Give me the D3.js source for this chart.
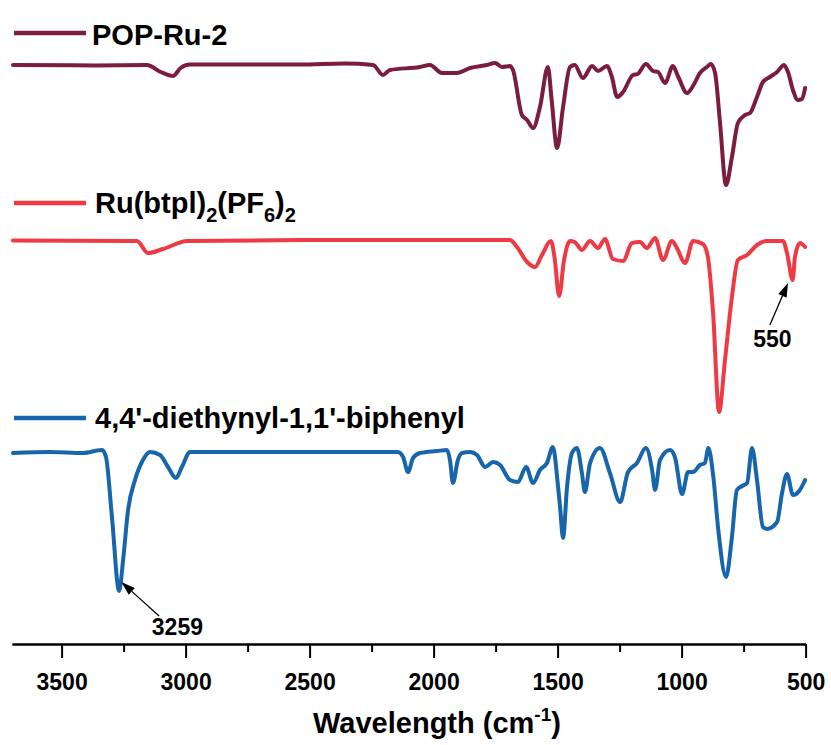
<!DOCTYPE html>
<html>
<head>
<meta charset="utf-8">
<script src="https://cdn.jsdelivr.net/npm/d3@7"></script>
<style>
  body { margin: 0; background: #fff; }
  svg { display: block; font-family: "Liberation Sans", Arial, sans-serif; font-weight: bold; }
</style>
</head>
<body>
<div id="chart"></div>
<script>

// wavenumbers (cm-1) and stacked intensity (a.u.)
var popWn = [3696, 3365, 3156, 3100, 3051, 3020, 2982, 2539, 2357, 2244, 2204, 2176, 2055, 2015, 1966, 1906, 1853, 1785, 1752, 1724,
             1692, 1680, 1644, 1623, 1599, 1571, 1539, 1524, 1502, 1478, 1450, 1431, 1398, 1361, 1337, 1301, 1281, 1260, 1236, 1196,
             1177, 1144, 1115, 1095, 1067, 1035, 1015, 978, 954, 926, 898, 882, 865, 845, 821, 797, 773, 744, 724, 696,
             672, 644, 615, 587, 571, 551, 531, 515, 502];
var popVal = [289.5, 289.3, 289.5, 286, 284, 288, 289.7, 289.7, 290.2, 289.5, 284.5, 287, 288.5, 289.5, 285.5, 285.5, 288, 289.5, 290.5, 288.5,
              289, 287, 264.5, 262, 258, 268.5, 288.5, 272, 248, 268.5, 288.5, 289.5, 283, 289, 286.5, 289, 283.5, 273.5, 276, 284.5,
              285, 290, 286.5, 286, 280.5, 289, 284, 275.5, 279, 285.5, 288.5, 290, 285.5, 260.5, 229.5, 243.5, 260.5, 264.5, 265.5, 273.5,
              281, 283.5, 286, 289.5, 286, 277, 272, 272.5, 278];

var ruWn = [3696, 3196, 3152, 3091, 2994, 2539, 1813, 1692, 1664, 1623, 1591, 1563, 1527, 1512, 1494, 1474, 1450, 1431, 1402, 1369,
            1337, 1309, 1277, 1236, 1200, 1168, 1140, 1107, 1075, 1039, 1019, 986, 954, 914, 894, 873, 849, 825, 797, 773,
            736, 696, 656, 591, 575, 552, 543, 523, 502];
var ruVal = [201.7, 201.5, 195.5, 197.5, 201.5, 202, 202, 202, 198.5, 191, 188.5, 194.5, 201.5, 193, 174, 192, 201.5, 201, 197, 201.5,
             198, 202.5, 192.5, 191.5, 200.5, 201, 198, 203, 192, 201.5, 198, 190.5, 201.5, 200, 193.5, 165.5, 116, 142, 173.5, 192,
             194.5, 199.5, 201.5, 201.5, 195.5, 182, 193.5, 200.5, 198.5];

var bpWn = [3696, 3547, 3414, 3337, 3321, 3297, 3268, 3252, 3232, 3204, 3172, 3144, 3103, 3071, 3039, 3015, 2982, 2809, 2619, 2349,
            2144, 2123, 2103, 2083, 2055, 1986, 1946, 1934, 1922, 1902, 1885, 1853, 1825, 1792, 1760, 1732, 1692, 1660, 1627, 1599,
            1571, 1543, 1519, 1498, 1490, 1478, 1462, 1442, 1422, 1402, 1390, 1369, 1329, 1289, 1248, 1216, 1180, 1144, 1119, 1107,
            1087, 1047, 1027, 998, 974, 954, 926, 906, 892, 872, 852, 821, 797, 777, 756, 736, 716, 696, 672, 656,
            615, 595, 575, 551, 523, 502];
var bpVal = [95.5, 96, 95.5, 97, 93.5, 63.5, 26.5, 42, 67, 82, 92, 96, 94.5, 88.5, 83, 88.5, 96, 96, 96, 96,
             96, 93.5, 86, 93, 95.5, 96.5, 97, 92, 80.5, 92, 95.5, 96, 94.5, 88.5, 91, 89.5, 82, 81, 88.5, 80.5,
             87, 90.5, 98.5, 78.5, 68.5, 53, 78.5, 95.5, 98, 85.5, 76, 90.5, 98, 85.5, 71, 86, 90.5, 98, 87, 77,
             92, 97, 93.5, 75, 86, 86, 89.5, 90.5, 98, 83.5, 57, 33.5, 53.5, 77, 79, 80.5, 98, 82, 58.5, 57.5,
             61, 75.5, 85, 74.5, 77, 82];

var seriesNames = ["POP-Ru-2", "Ru(btpl)2(PF6)2", "4,4'-diethynyl-1,1'-biphenyl"];
var seriesColors = ["#7b1d3b", "#ee3a44", "#1766ab"];

var majorTicks = [3500, 3000, 2500, 2000, 1500, 1000, 500];
var minorTicks = [3250, 2750, 2250, 1750, 1250, 750];

// peak labels: arrow tip, arrow tail and label position in data units
var peakNotes = [
  {text: "3259", tip: [3259, 31], tail: [3107, 14], label: [3033, 4.5]},
  {text: "550", tip: [571, 180.5], tail: [644, 159.5], label: [634, 148.6]}
];

var svg_dx = 831, svg_dy = 745;

var x = d3.scaleLinear().domain([3700, 500]).range([12, 805.6]),
    y = d3.scaleLinear().domain([0, 300]).range([644, 44]);

var svg = d3.select("#chart")
            .append("svg")
            .attr("width", svg_dx)
            .attr("height", svg_dy);

var series = [
  {wn: popWn, val: popVal},
  {wn: ruWn, val: ruVal},
  {wn: bpWn, val: bpVal}
].map(function(s, i) {
  return {
    name: seriesNames[i],
    color: seriesColors[i],
    points: s.wn.map(function(w, j) { return {wn: w, v: s.val[j]}; })
  };
});

var line = d3.line()
    .x(d => x(d.wn))
    .y(d => y(d.v))
    .curve(d3.curveMonotoneX);

svg.append("g")
   .selectAll("path")
   .data(series)
   .enter()
   .append("path")
   .attr("d", d => line(d.points))
   .style("fill", "none")
   .style("stroke", d => d.color)
   .style("stroke-width", 4)
   .style("stroke-linejoin", "round")
   .style("stroke-linecap", "round");

// legend entries above each trace
var legendY = [33, 203, 418];
var legend = svg.append("g");

legend.selectAll("line")
      .data(series)
      .enter()
      .append("line")
      .attr("x1", 14)
      .attr("x2", 86)
      .attr("y1", (d, i) => legendY[i])
      .attr("y2", (d, i) => legendY[i])
      .style("stroke", d => d.color)
      .style("stroke-width", 4.5);

legend.append("text")
      .attr("x", 92)
      .attr("y", legendY[0] + 12)
      .style("font-size", "29px")
      .text(seriesNames[0]);

var ruText = legend.append("text")
      .attr("x", 95)
      .attr("y", legendY[1] + 10)
      .style("font-size", "29px");
[["Ru(btpl)", 0], ["2", 1], ["(PF", 0], ["6", 1], [")", 0], ["2", 1]].forEach(function(p, i, arr) {
  var prevSub = i > 0 ? arr[i - 1][1] : 0;
  ruText.append("tspan")
        .attr("dy", p[1] && !prevSub ? 9 : (!p[1] && prevSub ? -9 : 0))
        .style("font-size", p[1] ? "20px" : "29px")
        .text(p[0]);
});

legend.append("text")
      .attr("x", 95)
      .attr("y", legendY[2] + 10)
      .style("font-size", "29px")
      .text(seriesNames[2]);

// peak annotations
var notes = svg.append("g");
peakNotes.forEach(function(n) {
  var tx = x(n.tip[0]), ty = y(n.tip[1]),
      sx = x(n.tail[0]), sy = y(n.tail[1]);
  var ang = Math.atan2(ty - sy, tx - sx),
      hl = 14, hw = 4.5;
  var bx = tx - hl * Math.cos(ang), by = ty - hl * Math.sin(ang);
  notes.append("line")
       .attr("x1", sx).attr("y1", sy)
       .attr("x2", bx).attr("y2", by)
       .style("stroke", "#000")
       .style("stroke-width", 1.3);
  notes.append("polygon")
       .attr("points", [
         [tx, ty],
         [bx + hw * Math.sin(ang), by - hw * Math.cos(ang)],
         [bx - hw * Math.sin(ang), by + hw * Math.cos(ang)]
       ].map(p => p.join(",")).join(" "))
       .style("fill", "#000");
  notes.append("text")
       .attr("x", x(n.label[0]))
       .attr("y", y(n.label[1]))
       .attr("text-anchor", "middle")
       .style("font-size", "23px")
       .text(n.text);
});

// bottom axis, major and minor ticks
var axisMajor = d3.axisBottom(x)
    .tickValues(majorTicks)
    .tickSize(14)
    .tickSizeOuter(0)
    .tickPadding(16)
    .tickFormat(d3.format("d"));

var axisMinor = d3.axisBottom(x)
    .tickValues(minorTicks)
    .tickSize(8)
    .tickSizeOuter(0)
    .tickFormat("");

var gMinor = svg.append("g")
   .attr("transform", "translate(0," + y(0) + ")")
   .call(axisMinor);

var gMajor = svg.append("g")
   .attr("transform", "translate(0," + y(0) + ")")
   .call(axisMajor);

[gMinor, gMajor].forEach(function(g) {
  g.selectAll("path, line").style("stroke", "#000").style("stroke-width", 2);
  g.selectAll("text")
   .style("font-family", "'Liberation Sans', Arial, sans-serif")
   .style("font-weight", "bold")
   .style("font-size", "23px")
   .style("fill", "#000");
});

var title = svg.append("text")
   .attr("x", 437)
   .attr("y", 733)
   .attr("text-anchor", "middle")
   .style("font-size", "29px");
title.append("tspan").text("Wavelength (cm");
title.append("tspan").attr("dy", -12).style("font-size", "19px").text("-1");
title.append("tspan").attr("dy", 12).text(")");

</script>
</body>
</html>
